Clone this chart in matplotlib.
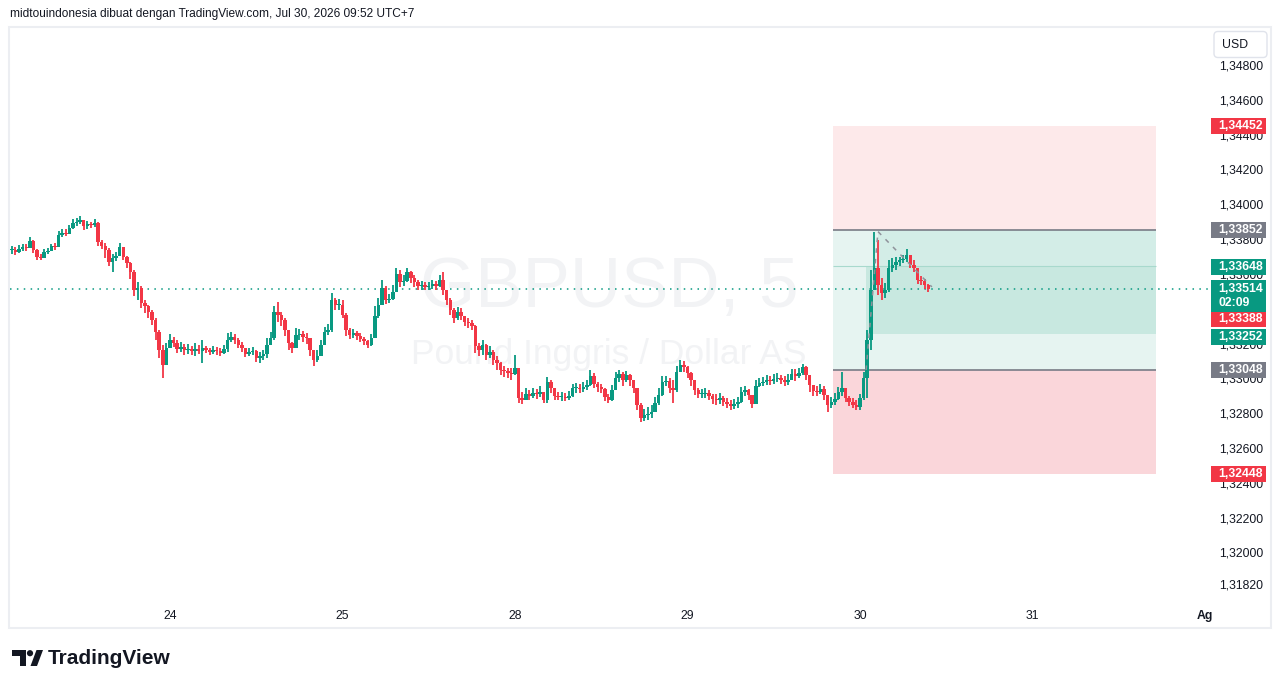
import matplotlib
matplotlib.use('Agg')
import matplotlib.pyplot as plt
from matplotlib.patches import Rectangle, FancyBboxPatch, Polygon, Circle
import numpy as np

plt.rcParams['font.family'] = ['Liberation Sans', 'DejaVu Sans']

GREEN = '#089981'
RED = '#f23645'
GREY = '#787b86'
TXT = '#131722'

# 30 minute bars, first bar 44 bars before 24 Jul 00:00
bar_minutes = 30
first_bar = -44

close = [
    1.33737, 1.33726, 1.33743, 1.33754, 1.33749, 1.33789, 1.33737, 1.33697, 1.33691, 1.33726,
    1.33731, 1.33760, 1.33754, 1.33823, 1.33835, 1.33829, 1.33863, 1.33892, 1.33898, 1.33909,
    1.33875, 1.33886, 1.33881, 1.33892, 1.33783, 1.33760, 1.33737, 1.33668, 1.33691, 1.33703,
    1.33754, 1.33697, 1.33662, 1.33611, 1.33507, 1.33519, 1.33433, 1.33416, 1.33381, 1.33335,
    1.33266, 1.33163, 1.33077, 1.33174, 1.33220, 1.33203, 1.33169, 1.33180, 1.33163, 1.33169,
    1.33157, 1.33169, 1.33157, 1.33174, 1.33163, 1.33151, 1.33163, 1.33157, 1.33146, 1.33169,
    1.33220, 1.33237, 1.33220, 1.33192, 1.33174, 1.33140, 1.33151, 1.33157, 1.33117, 1.33128,
    1.33140, 1.33192, 1.33232, 1.33381, 1.33364, 1.33335, 1.33278, 1.33203, 1.33174, 1.33249,
    1.33255, 1.33237, 1.33232, 1.33163, 1.33105, 1.33128, 1.33192, 1.33266, 1.33278, 1.33450,
    1.33421, 1.33421, 1.33364, 1.33278, 1.33249, 1.33260, 1.33243, 1.33226, 1.33214, 1.33192,
    1.33232, 1.33358, 1.33421, 1.33519, 1.33450, 1.33456, 1.33496, 1.33599, 1.33553, 1.33559,
    1.33611, 1.33576, 1.33553, 1.33530, 1.33536, 1.33525, 1.33530, 1.33542, 1.33530, 1.33565,
    1.33507, 1.33450, 1.33393, 1.33347, 1.33381, 1.33358, 1.33324, 1.33318, 1.33301, 1.33186,
    1.33163, 1.33192, 1.33134, 1.33151, 1.33105, 1.33088, 1.33048, 1.33042, 1.33031, 1.33025,
    1.33059, 1.32887, 1.32876, 1.32910, 1.32899, 1.32916, 1.32910, 1.32922, 1.32876, 1.32979,
    1.32945, 1.32899, 1.32893, 1.32893, 1.32887, 1.32899, 1.32945, 1.32945, 1.32939, 1.32950,
    1.32962, 1.33014, 1.32968, 1.32950, 1.32939, 1.32893, 1.32876, 1.32933, 1.33002, 1.33025,
    1.32991, 1.33019, 1.32991, 1.32945, 1.32847, 1.32772, 1.32790, 1.32795, 1.32807, 1.32858,
    1.32904, 1.32979, 1.32985, 1.32945, 1.32933, 1.33036, 1.33077, 1.33065, 1.33031, 1.32991,
    1.32933, 1.32910, 1.32910, 1.32916, 1.32899, 1.32881, 1.32876, 1.32887, 1.32864, 1.32853,
    1.32841, 1.32853, 1.32864, 1.32922, 1.32933, 1.32904, 1.32853, 1.32956, 1.32973, 1.32979,
    1.32991, 1.32985, 1.32996, 1.33002, 1.32991, 1.32979, 1.32991, 1.33025, 1.33014, 1.33031,
    1.33065, 1.33019, 1.32962, 1.32927, 1.32922, 1.32939, 1.32904, 1.32847, 1.32864, 1.32881,
    1.32922, 1.32945, 1.32887, 1.32864, 1.32847, 1.32835, 1.32887, 1.33002, 1.33220, 1.33507,
    1.33634, 1.33536, 1.33490, 1.33507, 1.33634, 1.33651, 1.33668, 1.33680, 1.33685, 1.33708,
    1.33651, 1.33634, 1.33565, 1.33559, 1.33536, 1.33514,
]

high = [
    1.33760, 1.33754, 1.33766, 1.33772, 1.33772, 1.33812, 1.33795, 1.33743, 1.33714, 1.33743,
    1.33749, 1.33772, 1.33777, 1.33846, 1.33858, 1.33858, 1.33881, 1.33915, 1.33921, 1.33932,
    1.33909, 1.33904, 1.33898, 1.33915, 1.33898, 1.33795, 1.33777, 1.33749, 1.33714, 1.33726,
    1.33777, 1.33754, 1.33703, 1.33668, 1.33622, 1.33553, 1.33530, 1.33450, 1.33421, 1.33393,
    1.33347, 1.33278, 1.33192, 1.33203, 1.33255, 1.33237, 1.33220, 1.33209, 1.33197, 1.33197,
    1.33186, 1.33203, 1.33192, 1.33220, 1.33186, 1.33174, 1.33186, 1.33180, 1.33174, 1.33192,
    1.33260, 1.33266, 1.33255, 1.33232, 1.33209, 1.33174, 1.33174, 1.33180, 1.33163, 1.33151,
    1.33163, 1.33232, 1.33266, 1.33416, 1.33438, 1.33381, 1.33347, 1.33266, 1.33209, 1.33289,
    1.33283, 1.33272, 1.33260, 1.33232, 1.33163, 1.33163, 1.33220, 1.33295, 1.33312, 1.33490,
    1.33461, 1.33456, 1.33450, 1.33375, 1.33289, 1.33283, 1.33272, 1.33260, 1.33237, 1.33220,
    1.33255, 1.33416, 1.33461, 1.33565, 1.33530, 1.33484, 1.33536, 1.33634, 1.33622, 1.33594,
    1.33634, 1.33616, 1.33594, 1.33565, 1.33559, 1.33553, 1.33553, 1.33565, 1.33559, 1.33594,
    1.33611, 1.33507, 1.33461, 1.33404, 1.33410, 1.33404, 1.33358, 1.33347, 1.33335, 1.33306,
    1.33203, 1.33220, 1.33197, 1.33186, 1.33163, 1.33128, 1.33094, 1.33071, 1.33059, 1.33059,
    1.33134, 1.33048, 1.32922, 1.32945, 1.32933, 1.32945, 1.32939, 1.32956, 1.32916, 1.33008,
    1.32991, 1.32945, 1.32922, 1.32922, 1.32916, 1.32927, 1.32968, 1.32973, 1.32968, 1.32979,
    1.32991, 1.33048, 1.33031, 1.32979, 1.32968, 1.32945, 1.32910, 1.32962, 1.33036, 1.33048,
    1.33036, 1.33042, 1.33025, 1.32991, 1.32945, 1.32858, 1.32824, 1.32835, 1.32847, 1.32893,
    1.32945, 1.33014, 1.33014, 1.33002, 1.32991, 1.33071, 1.33105, 1.33100, 1.33071, 1.33036,
    1.32979, 1.32945, 1.32939, 1.32945, 1.32933, 1.32910, 1.32910, 1.32916, 1.32899, 1.32887,
    1.32876, 1.32881, 1.32893, 1.32950, 1.32956, 1.32939, 1.32904, 1.32991, 1.33002, 1.33008,
    1.33019, 1.33014, 1.33025, 1.33031, 1.33019, 1.33014, 1.33025, 1.33054, 1.33054, 1.33059,
    1.33082, 1.33071, 1.33014, 1.32962, 1.32956, 1.32968, 1.32956, 1.32899, 1.32893, 1.32916,
    1.32950, 1.33036, 1.32945, 1.32899, 1.32887, 1.32876, 1.32910, 1.33036, 1.33278, 1.33622,
    1.33841, 1.33795, 1.33576, 1.33548, 1.33680, 1.33691, 1.33697, 1.33697, 1.33708, 1.33743,
    1.33708, 1.33680, 1.33634, 1.33588, 1.33571, 1.33542,
]

low = [
    1.33714, 1.33708, 1.33720, 1.33731, 1.33731, 1.33749, 1.33720, 1.33680, 1.33680, 1.33691,
    1.33714, 1.33731, 1.33737, 1.33754, 1.33812, 1.33818, 1.33829, 1.33858, 1.33875, 1.33886,
    1.33852, 1.33858, 1.33863, 1.33869, 1.33760, 1.33743, 1.33691, 1.33645, 1.33611, 1.33674,
    1.33703, 1.33680, 1.33634, 1.33571, 1.33473, 1.33450, 1.33404, 1.33375, 1.33347, 1.33306,
    1.33220, 1.33117, 1.33002, 1.33094, 1.33174, 1.33180, 1.33146, 1.33151, 1.33134, 1.33140,
    1.33134, 1.33128, 1.33140, 1.33088, 1.33146, 1.33134, 1.33140, 1.33134, 1.33128, 1.33140,
    1.33151, 1.33209, 1.33197, 1.33174, 1.33151, 1.33123, 1.33128, 1.33134, 1.33094, 1.33088,
    1.33105, 1.33117, 1.33197, 1.33220, 1.33324, 1.33301, 1.33243, 1.33163, 1.33146, 1.33174,
    1.33220, 1.33209, 1.33197, 1.33128, 1.33071, 1.33094, 1.33151, 1.33192, 1.33249, 1.33266,
    1.33393, 1.33393, 1.33347, 1.33243, 1.33226, 1.33232, 1.33220, 1.33209, 1.33192, 1.33174,
    1.33186, 1.33335, 1.33347, 1.33421, 1.33427, 1.33433, 1.33450, 1.33496, 1.33525, 1.33530,
    1.33553, 1.33548, 1.33525, 1.33507, 1.33507, 1.33507, 1.33507, 1.33513, 1.33507, 1.33525,
    1.33479, 1.33421, 1.33364, 1.33318, 1.33335, 1.33335, 1.33301, 1.33289, 1.33278, 1.33146,
    1.33128, 1.33134, 1.33105, 1.33117, 1.33077, 1.33048, 1.33019, 1.33008, 1.33002, 1.32991,
    1.33019, 1.32858, 1.32853, 1.32876, 1.32876, 1.32887, 1.32881, 1.32893, 1.32858, 1.32858,
    1.32916, 1.32876, 1.32876, 1.32870, 1.32870, 1.32876, 1.32893, 1.32916, 1.32916, 1.32922,
    1.32933, 1.32956, 1.32945, 1.32922, 1.32916, 1.32870, 1.32858, 1.32870, 1.32945, 1.32979,
    1.32956, 1.32979, 1.32956, 1.32916, 1.32818, 1.32749, 1.32755, 1.32761, 1.32772, 1.32818,
    1.32847, 1.32899, 1.32956, 1.32916, 1.32858, 1.32922, 1.33036, 1.33036, 1.33002, 1.32956,
    1.32904, 1.32887, 1.32887, 1.32887, 1.32876, 1.32853, 1.32847, 1.32853, 1.32841, 1.32830,
    1.32818, 1.32824, 1.32830, 1.32858, 1.32899, 1.32876, 1.32830, 1.32853, 1.32950, 1.32956,
    1.32962, 1.32962, 1.32968, 1.32979, 1.32968, 1.32956, 1.32962, 1.32991, 1.32985, 1.33002,
    1.33019, 1.32991, 1.32922, 1.32899, 1.32899, 1.32910, 1.32876, 1.32807, 1.32830, 1.32847,
    1.32876, 1.32899, 1.32864, 1.32841, 1.32830, 1.32818, 1.32818, 1.32876, 1.32887, 1.33163,
    1.33536, 1.33479, 1.33450, 1.33461, 1.33496, 1.33611, 1.33622, 1.33645, 1.33662, 1.33668,
    1.33634, 1.33611, 1.33542, 1.33536, 1.33513, 1.33496,
]

day_ticks = [0, 1, 2, 3, 4, 5, 6]
day_labels = ['24', '25', '28', '29', '30', '31', 'Ag']

price_ticks = [1.348, 1.346, 1.344, 1.342, 1.340, 1.338, 1.336, 1.332,
               1.330, 1.328, 1.326, 1.324, 1.322, 1.320, 1.3182]

# position tool (long/short) levels
stop_top = 1.34452
entry_top = 1.33852
mid_level = 1.33648
inner_level = 1.33252
entry_bottom = 1.33048
stop_bottom = 1.32448
box_start = 3 + 20.25 / 24
box_end = 5 + 17.2 / 24
fill_start = 4 + 0.85 / 24
fill_top_start = 4 + 2.5 / 24

last_price = 1.33514
countdown = '02:09'

# (price, colour, shift in px)
badges = [
    (1.34452, RED, 0), (1.33852, GREY, 0), (1.33648, GREEN, 1.5),
    (1.33388, RED, 8), (1.33252, GREEN, 2.5), (1.33048, GREY, 0),
    (1.32448, RED, 0),
]

# dashed path drawn by the position tool
path_t = [4 + 0.85 / 24, 4 + 2.5 / 24, 4 + 10.0 / 24]
path_p = [1.33048, 1.33843, 1.33525]

W, H = 1281, 688
fig = plt.figure(figsize=(W / 100, H / 100), dpi=100)
fig.patch.set_facecolor('white')

# page level axes in pixel units for header, frame and logo
bg = fig.add_axes([0, 0, 1, 1])
bg.set_xlim(0, W)
bg.set_ylim(H, 0)
bg.axis('off')

bg.text(10, 14, 'midtouindonesia dibuat dengan TradingView.com, Jul 30, 2026 09:52 UTC+7',
        fontsize=8.6, color=TXT, va='center', ha='left')
bg.add_patch(Rectangle((8.5, 27), 1262, 600.5, fill=False, ec='#eceef2', lw=1.5))

# logo
bg.add_patch(Polygon([(12, 650), (26, 650), (26, 666), (19.5, 666), (19.5, 656), (12, 656)],
                     closed=True, fc='#131722', ec='none'))
bg.add_patch(Circle((30, 653.2), 3.1, fc='#131722', ec='none'))
bg.add_patch(Polygon([(30.5, 666), (36.5, 650), (43, 650), (37, 666)], closed=True,
                     fc='#131722', ec='none'))
bg.text(47.5, 658.5, 'TradingView', fontsize=15, fontweight='bold', color='#131722',
        va='center', ha='left')

# main chart axes
left, right, top, bottom = 10, 1208, 27, 600
ax = fig.add_axes([left / W, 1 - bottom / H, (right - left) / W, (bottom - top) / H])
ax.patch.set_visible(False)
for s in ax.spines.values():
    s.set_visible(False)

px_per_day = 172.5
t0 = (left - 170) / px_per_day
t1 = (right - 170) / px_per_day
ax.set_xlim(t0, t1)
p_per_px = 0.00005743
y_top = entry_top + (230 - top) * p_per_px
y_bot = entry_top - (bottom - 230) * p_per_px
ax.set_ylim(y_bot, y_top)

# watermark
ax.text(0.5, 0.543, 'GBPUSD, 5', transform=ax.transAxes, fontsize=51, color='#f2f3f5',
        ha='center', va='center', zorder=0)
ax.text(0.5, 0.428, 'Pound Inggris / Dollar AS', transform=ax.transAxes, fontsize=25.5,
        color='#f2f3f5', ha='center', va='center', zorder=0)

# position tool zones
w = box_end - box_start
ax.add_patch(Rectangle((box_start, entry_top), w, stop_top - entry_top, fc='#fde9ea', ec='none', zorder=1))
ax.add_patch(Rectangle((box_start, stop_bottom), w, entry_bottom - stop_bottom, fc='#fad6da', ec='none', zorder=1))
ax.add_patch(Rectangle((box_start, entry_bottom), w, entry_top - entry_bottom, fc='#e6f4f1', ec='none', zorder=1))
ax.add_patch(Rectangle((fill_top_start, mid_level), box_end - fill_top_start, entry_top - mid_level,
                       fc='#d3ede7', ec='none', zorder=1))
ax.add_patch(Rectangle((fill_start, inner_level), box_end - fill_start, mid_level - inner_level,
                       fc='#c8e8e0', ec='none', zorder=1))
ax.add_patch(Rectangle((fill_start, entry_bottom), fill_top_start - fill_start - 0.06, inner_level - entry_bottom,
                       fc='#d3ede7', ec='none', zorder=1))
ax.hlines([entry_top, entry_bottom], box_start, box_end, colors=GREY, lw=1.2, zorder=2)
ax.hlines([mid_level], box_start, box_end, colors='#a8d9cd', lw=0.8, zorder=2)
ax.plot(path_t, path_p, color='#8f929b', lw=1.1, ls=(0, (3, 4)), zorder=4)

# candles
t = (first_bar + np.arange(len(close))) * bar_minutes / 1440.0
c = np.array(close)
o = np.r_[c[0], c[:-1]]
hi = np.maximum(np.array(high), np.maximum(o, c))
lo = np.minimum(np.array(low), np.minimum(o, c))
cols = np.where(c >= o, GREEN, RED)
ax.vlines(t, lo, hi, colors=cols, lw=1.3, zorder=3)
body = np.maximum(np.abs(c - o), 0.00007)
ax.bar(t, body, width=0.97 / 48, bottom=np.minimum(o, c), color=cols, lw=0, zorder=3)

# last price line
ax.axhline(last_price, color=GREEN, lw=1.1, ls=(0, (1, 3.5)), zorder=2)

# axes ticks
ax.set_xticks(day_ticks)
ax.set_xticklabels(day_labels)
for lab in ax.get_xticklabels():
    if lab.get_text() == 'Ag':
        lab.set_fontweight('bold')
ax.yaxis.tick_right()
ax.set_yticks(price_ticks)
ax.set_yticklabels([('%.5f' % p).replace('.', ',') for p in price_ticks])
ax.tick_params(axis='x', length=0, pad=7, labelsize=8.8, labelcolor=TXT)
ax.tick_params(axis='y', length=0, pad=8, labelsize=8.8, labelcolor=TXT)

# price scale overlay for badges
pax = fig.add_axes([right / W, 1 - bottom / H, (1270 - right) / W, (bottom - top) / H], sharey=ax)
pax.patch.set_visible(False)
pax.axis('off')
pax.set_xlim(0, 62)
bh = 16 * p_per_px
for p, col, shift in badges:
    yc = p - shift * p_per_px
    pax.add_patch(Rectangle((3, yc - bh / 2), 55, bh, fc=col, ec='none', clip_on=False))
    pax.text(10.5, yc, ('%.5f' % p).replace('.', ','), color='white', fontsize=8.8,
             fontweight='semibold', va='center', ha='left', clip_on=False)
# current price badge with countdown
pax.add_patch(Rectangle((3, last_price - 23 * p_per_px), 55, 32 * p_per_px, fc=GREEN, ec='none', clip_on=False))
pax.text(10.5, last_price, ('%.5f' % last_price).replace('.', ','), color='white', fontsize=8.8,
         fontweight='semibold', va='center', ha='left')
pax.text(10.5, last_price - 14 * p_per_px, countdown, color='white', fontsize=8.8,
         fontweight='semibold', va='center', ha='left')

# currency button
bg.add_patch(FancyBboxPatch((1214, 31.5), 53, 26, boxstyle='round,pad=0,rounding_size=4',
                            fc='white', ec='#e0e3eb', lw=1))
bg.text(1222, 44.5, 'USD', fontsize=8.8, color=TXT, va='center', ha='left')

fig.savefig('out.png', dpi=100, facecolor='white')
